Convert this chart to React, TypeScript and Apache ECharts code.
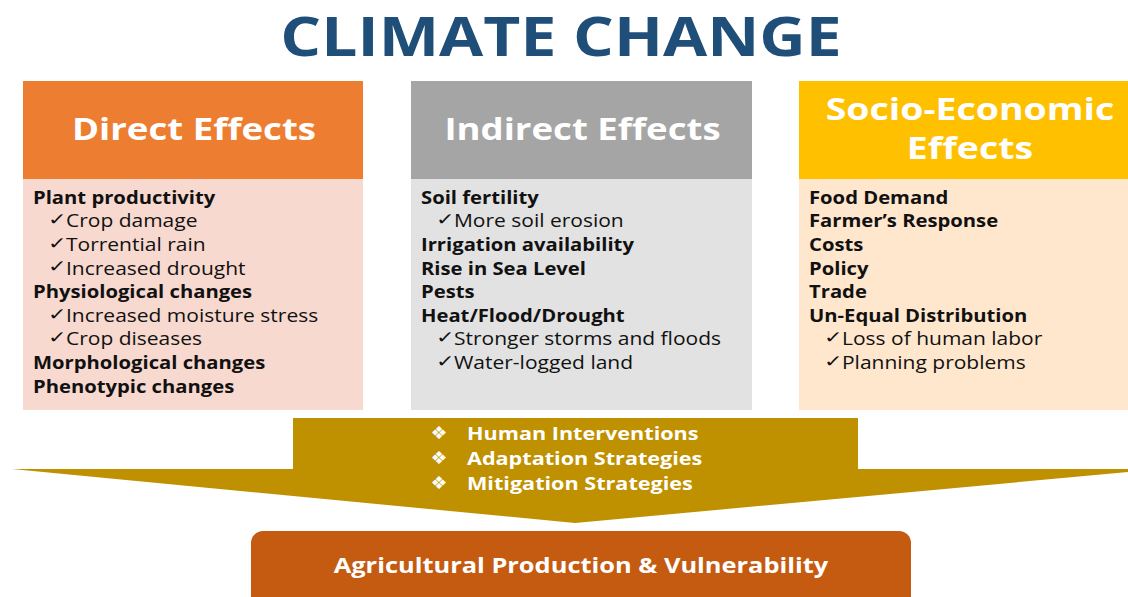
import React, { useEffect, useRef } from "react";
import * as echarts from "echarts";

const title = "CLIMATE CHANGE";
const panelTitles = [["Direct Effects"], ["Indirect Effects"], ["Socio-Economic", "Effects"]];
// level 0 = bold heading, level 1 = checked sub-item
const directItems: [string, number][] = [
  ["Plant productivity", 0],
  ["Crop damage", 1],
  ["Torrential rain", 1],
  ["Increased drought", 1],
  ["Physiological changes", 0],
  ["Increased moisture stress", 1],
  ["Crop diseases", 1],
  ["Morphological changes", 0],
  ["Phenotypic changes", 0],
];
const indirectItems: [string, number][] = [
  ["Soil fertility", 0],
  ["More soil erosion", 1],
  ["Irrigation availability", 0],
  ["Rise in Sea Level", 0],
  ["Pests", 0],
  ["Heat/Flood/Drought", 0],
  ["Stronger storms and floods", 1],
  ["Water-logged land", 1],
];
const socioItems: [string, number][] = [
  ["Food Demand", 0],
  ["Farmer\u2019s Response", 0],
  ["Costs", 0],
  ["Policy", 0],
  ["Trade", 0],
  ["Un-Equal Distribution", 0],
  ["Loss of human labor", 1],
  ["Planning problems", 1],
];
const interventions = ["Human Interventions", "Adaptation Strategies", "Mitigation Strategies"];
const outcome = "Agricultural Production & Vulnerability";

const FONT = '"Open Sans", "Noto Sans", sans-serif';

function txt(
  text: string, x: number, y: number, size: number, bold: boolean,
  align: string, fill: string, sx: number, family: string = FONT
) {
  return {
    type: "text",
    x, y, scaleX: sx, scaleY: 1,
    style: {
      text, x: 0, y: 0, fill, fontSize: size, fontWeight: bold ? "bold" : "normal", fontFamily: family,
      textAlign: align, textVerticalAlign: "middle",
    },
  };
}

export default function App() {
  const ref = useRef<HTMLDivElement>(null);
  useEffect(() => {
    if (!ref.current) return;
    const chart = echarts.init(ref.current, null, { renderer: "svg" });
    const panels = [
      { x: 23, w: 340, head: "#ED7D31", body: "#F8D9CF", items: directItems },
      { x: 411, w: 341, head: "#A5A5A5", body: "#E2E2E2", items: indirectItems },
      { x: 799, w: 329, head: "#FFC000", body: "#FFE7CE", items: socioItems },
    ];
    const els: any[] = [];
    els.push(txt(title, 561, 35, 53, true, "center", "#1F4E79", 1.21));
    panels.forEach((p, i) => {
      els.push({ type: "rect", shape: { x: p.x, y: 81, width: p.w, height: 98 }, style: { fill: p.head } });
      els.push({ type: "rect", shape: { x: p.x, y: 179, width: p.w, height: 231 }, style: { fill: p.body } });
      const lines = panelTitles[i];
      const cx = i === 2 ? 970 : p.x + p.w / 2 + 1;
      lines.forEach((t, k) => {
        const y = lines.length === 1 ? 128 : 109 + k * 39;
        els.push(txt(t, cx, y, 30, true, "center", "#FFFFFF", lines.length === 1 ? 1.22 : 1.25));
      });
      p.items.forEach(([t, lvl], k) => {
        const y = 197 + k * 23.6;
        if (lvl === 0) {
          els.push(txt(t, p.x + 10, y, 17, true, "left", "#111111", 1.19));
        } else {
          els.push(txt("\u2713", p.x + 25, y - 1, 17, true, "left", "#111111", 1.3, '"DejaVu Sans", sans-serif'));
          els.push(txt(t, p.x + 43, y, 17.5, false, "left", "#111111", 1.2));
        }
      });
    });
    els.push({
      type: "polygon",
      shape: {
        points: [[293, 418], [858, 418], [858, 469], [1128, 469], [1128, 472], [575, 523], [12, 469], [293, 469]],
      },
      style: { fill: "#BF9000" },
    });
    interventions.forEach((t, k) => {
      const y = 433 + k * 25;
      els.push(txt("\u2756", 439, y, 18, false, "center", "#FFFFFF", 1.05, '"DejaVu Sans", sans-serif'));
      els.push(txt(t, 467, y, 18, true, "left", "#FFFFFF", 1.2));
    });
    els.push({
      type: "rect",
      shape: { x: 251, y: 531, width: 660, height: 80, r: 12 },
      style: { fill: "#C55A11" },
    });
    els.push(txt(outcome, 581, 565, 20.5, true, "center", "#FFFFFF", 1.24));
    chart.setOption({ animation: false, backgroundColor: "#FFFFFF", graphic: { elements: els } });
    return () => chart.dispose();
  }, []);
  return <div ref={ref} style={{ position: "fixed", left: 0, top: 0, width: 1128, height: 597 }} />;
}
